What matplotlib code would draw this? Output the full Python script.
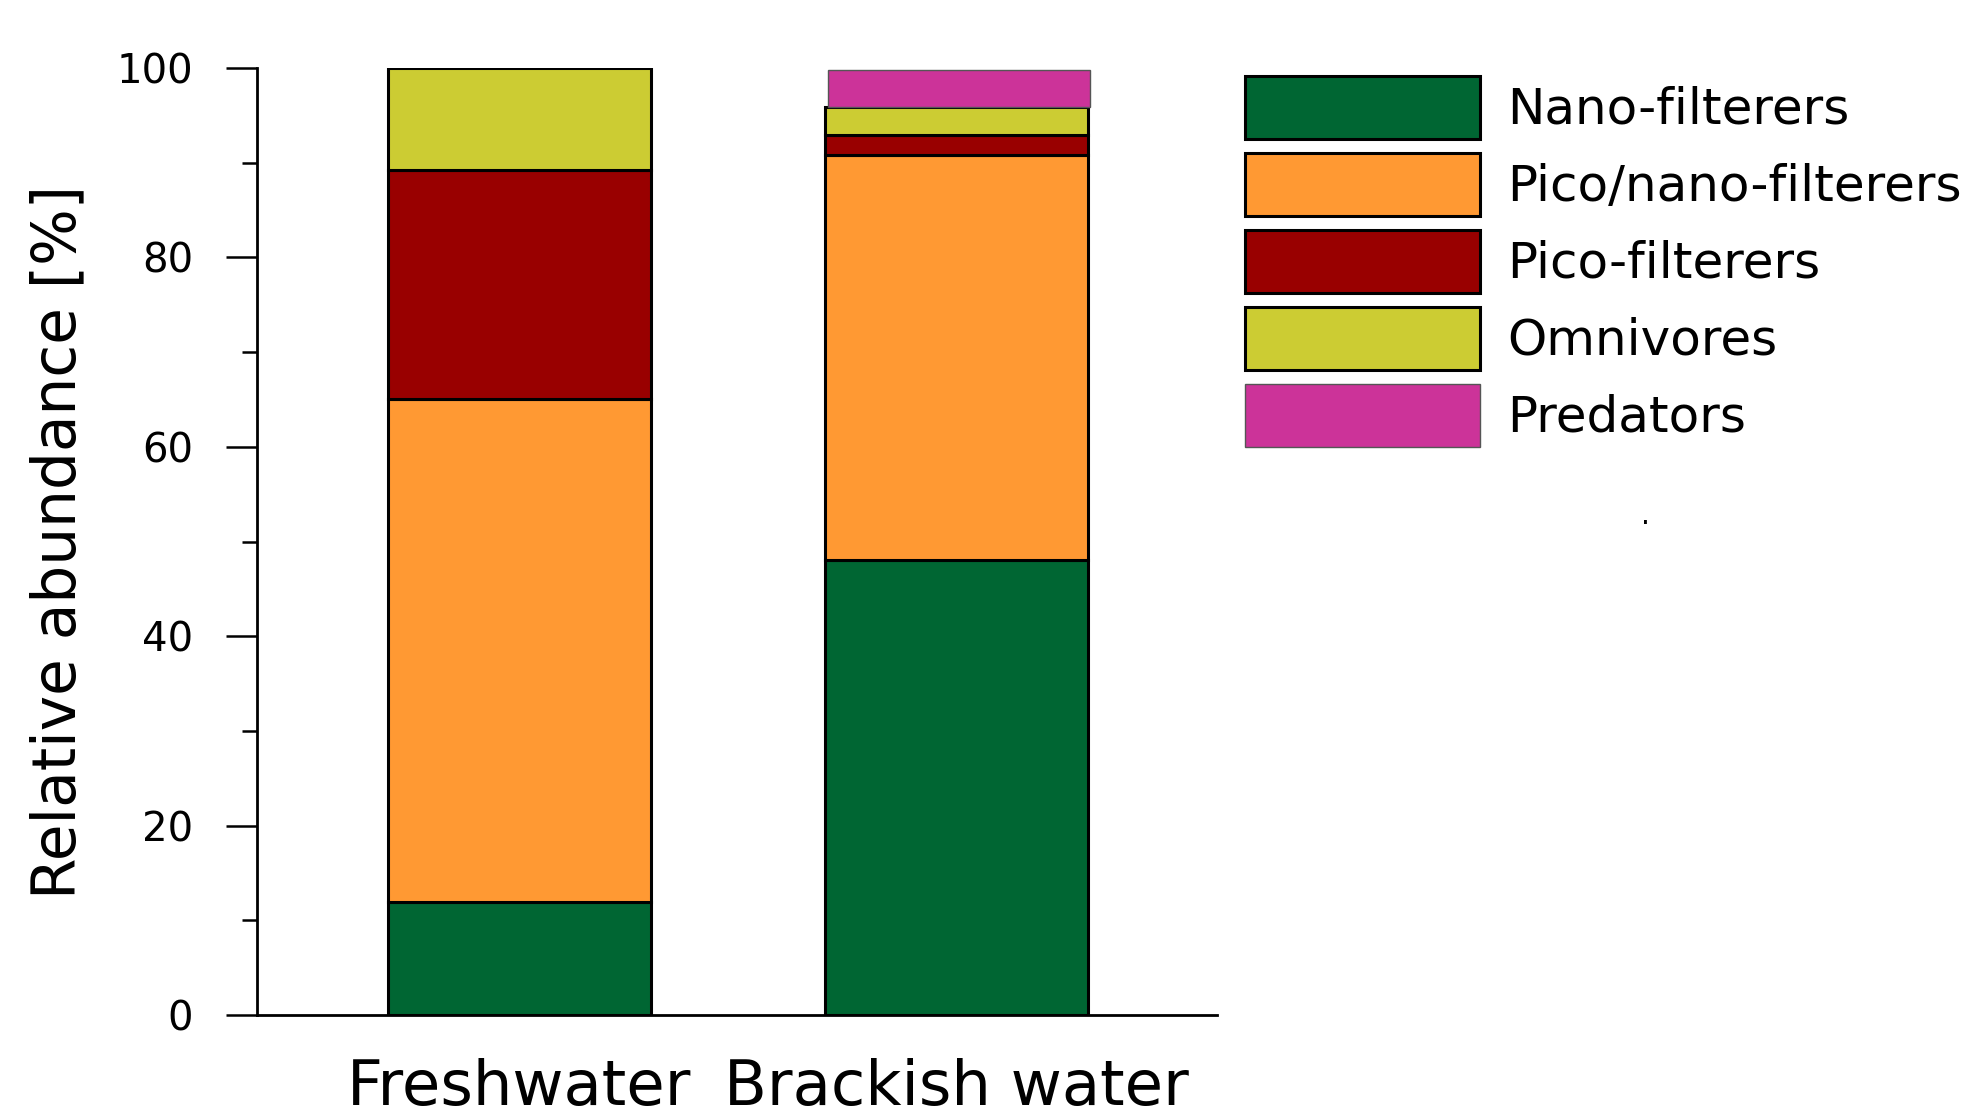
import numpy as np
import matplotlib
matplotlib.use("Agg")
import matplotlib.pyplot as plt
from matplotlib.patches import Patch
from matplotlib.ticker import MultipleLocator

plt.rcParams['font.family'] = ['DejaVu Sans']

# data (stacked percentages, bottom to top)
sites = ["Freshwater", "Brackish water"]
groups = ["Nano-filterers", "Pico/nano-filterers", "Pico-filterers", "Omnivores", "Predators"]
nano = [11.9, 48.0]
pico_nano = [53.2, 42.8]
pico = [24.1, 2.1]
omnivores = [10.8, 3.0]
predators = [0.0, 3.9]
colors = ["#006633", "#FF9933", "#990000", "#CCCC33", "#CC3399"]

fig = plt.figure(figsize=(19.82, 11.16), dpi=100)
ax = fig.add_axes([0.1297, 0.0905, 0.4844, 0.8485])

x = np.arange(len(sites))
width = 0.6
bottom = np.zeros(len(sites))
series = [nano, pico_nano, pico, omnivores, predators]
for i, vals in enumerate(series):
    vals = np.array(vals)
    if groups[i] == "Predators":
        # predators sit on brackish bar only, thin grey edge
        mask = vals > 0
        ax.bar(x[mask] + 0.005, vals[mask], width, bottom=bottom[mask], color=colors[i],
               edgecolor="#555555", linewidth=1)
    else:
        ax.bar(x, vals, width, bottom=bottom, color=colors[i],
               edgecolor="black", linewidth=2.2)
    bottom += vals

ax.set_xlim(-0.6, 1.596)
ax.set_ylim(0, 100)
ax.spines['top'].set_visible(False)
ax.spines['right'].set_visible(False)
ax.spines['left'].set_linewidth(2)
ax.spines['bottom'].set_linewidth(2)
ax.yaxis.set_major_locator(MultipleLocator(20))
ax.yaxis.set_minor_locator(MultipleLocator(10))
ax.tick_params(axis='y', which='major', length=22, width=1.8, labelsize=29, pad=24)
ax.tick_params(axis='y', which='minor', length=11, width=1.8)
ax.set_xticks(x)
ax.set_xticklabels(sites, fontsize=45)
ax.tick_params(axis='x', length=0, pad=31)
ax.set_ylabel("Relative abundance [%]", fontsize=43)
ax.yaxis.set_label_coords(-0.176, 0.5)

handles = []
for i, g in enumerate(groups):
    ec = "#555555" if g == "Predators" else "black"
    lw = 1 if g == "Predators" else 2.2
    handles.append(Patch(facecolor=colors[i], edgecolor=ec, linewidth=lw, label=g))
fig.legend(handles=handles, loc='upper left', bbox_to_anchor=(1245 / 1982, 1 - 76 / 1116),
           frameon=False, fontsize=36, handlelength=4.7, handleheight=1.56,
           labelspacing=0.28, handletextpad=0.55, borderpad=0, borderaxespad=0)

fig.text(1645 / 1982, 1 - 516 / 1116, ".", fontsize=20, ha='center', va='center')

fig.savefig("out.png", dpi=100)
